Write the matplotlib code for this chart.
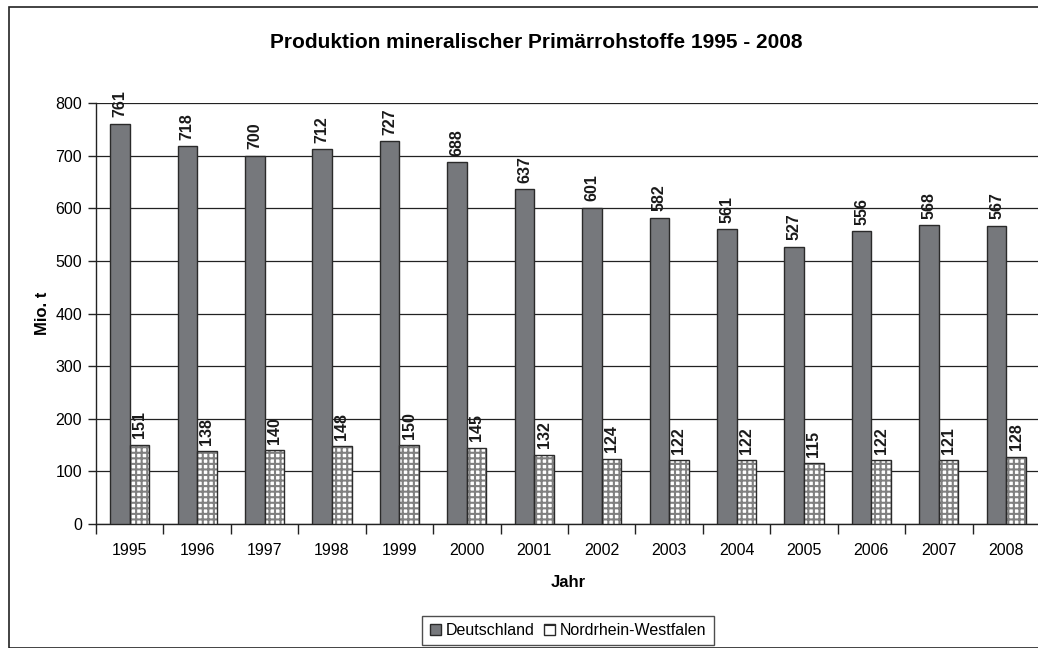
import matplotlib
matplotlib.use("Agg")
import matplotlib.pyplot as plt
from matplotlib.patches import Rectangle, Patch
import numpy as np

plt.rcParams['font.family'] = ['Liberation Sans', 'DejaVu Sans']
plt.rcParams['hatch.linewidth'] = 1.5

years = ['1995', '1996', '1997', '1998', '1999', '2000', '2001',
         '2002', '2003', '2004', '2005', '2006', '2007', '2008']
deutschland = [761, 718, 700, 712, 727, 688, 637, 601, 582, 561, 527, 556, 568, 567]
nrw = [151, 138, 140, 148, 150, 145, 132, 124, 122, 122, 115, 122, 121, 128]
yticks = [0, 100, 200, 300, 400, 500, 600, 700, 800]

W, H = 1038, 648
fig = plt.figure(figsize=(W / 100, H / 100), dpi=100)
fig.patch.set_facecolor('white')

# outer chart frame
fig.patches.append(Rectangle((9 / W, 0), 1.2, 1 - 7 / H, transform=fig.transFigure,
                             fill=False, edgecolor='#222222', linewidth=1.2, clip_on=False))

ax = fig.add_axes([96 / W, 1 - 524 / H, (1040 - 96) / W, (524 - 103) / H])
x = np.arange(len(years))
bw = 0.29
dark = '#76787c'
edge = '#2a2a2a'
hatch_col = '#808080'

b1 = ax.bar(x - bw / 2, deutschland, bw, color=dark, edgecolor=edge,
            linewidth=1.0, zorder=3)
# grid-pattern bars: hatch layer in grey, outline layer on top
b2 = ax.bar(x + bw / 2, nrw, bw, color='white', edgecolor=hatch_col, hatch='+++',
            linewidth=0, zorder=3)
ax.bar(x + bw / 2, nrw, bw, color='none', edgecolor=edge, linewidth=1.0, zorder=3.5)

for bars, vals in ((b1, deutschland), (b2, nrw)):
    for rect, v in zip(bars, vals):
        ax.annotate(str(v), (rect.get_x() + rect.get_width() / 2, v), xytext=(0, 4.5),
                    textcoords='offset points', rotation=90, ha='center', va='bottom',
                    fontsize=11.5, fontweight='bold', color='#1a1a1a', zorder=4)

ax.set_xlim(-0.5, len(years) - 0.5)
ax.set_ylim(0, 800)
ax.set_yticks(yticks)
ax.set_yticklabels([str(t) for t in yticks], fontsize=11.5)
ax.yaxis.grid(True, color='#222222', linewidth=0.9, zorder=0)
ax.set_axisbelow(True)

ax.set_xticks(x)
ax.set_xticklabels(years, fontsize=11.5)
ax.tick_params(axis='x', which='major', length=0, pad=14)
ax.set_xticks(np.arange(-0.5, len(years) - 0.4, 1), minor=True)
ax.tick_params(axis='x', which='minor', length=7, width=1, color='#222222', direction='out')
ax.tick_params(axis='y', length=6, width=1, color='#222222', direction='out', pad=4)

for s in ['top', 'right']:
    ax.spines[s].set_visible(False)
for s in ['left', 'bottom']:
    ax.spines[s].set_color('#222222')
    ax.spines[s].set_linewidth(1.0)

ax.set_xlabel('Jahr', fontsize=12, fontweight='bold', labelpad=12)
ax.set_ylabel('Mio. t', fontsize=12, fontweight='bold', labelpad=4)

fig.text(536 / W, 1 - 42 / H, 'Produktion mineralischer Primärrohstoffe 1995 - 2008',
         ha='center', va='center', fontsize=15, fontweight='bold')

h1 = Patch(facecolor=dark, edgecolor=edge, linewidth=1.0, label='Deutschland')
h2 = Patch(facecolor='white', edgecolor=edge, hatch='+', linewidth=1.0,
           label='Nordrhein-Westfalen')
leg = fig.legend(handles=[h1, h2], loc='upper center', ncol=2,
                 bbox_to_anchor=(568 / W, 1 - 616 / H), frameon=True, fancybox=False,
                 fontsize=11.5, handlelength=0.7, handleheight=0.7, handletextpad=0.3,
                 columnspacing=0.6, borderpad=0.45, borderaxespad=0)
leg.get_frame().set_edgecolor('#222222')
leg.get_frame().set_linewidth(1.0)

fig.savefig('out.png', dpi=100)
